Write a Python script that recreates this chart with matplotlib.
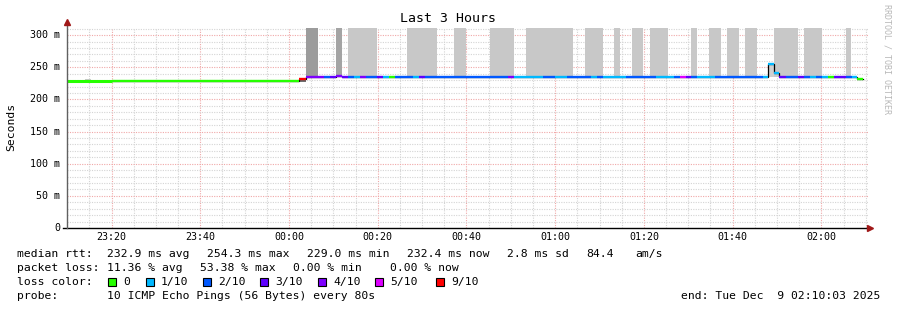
import matplotlib
matplotlib.use("Agg")
import matplotlib.pyplot as plt
from matplotlib.patches import Rectangle

# ---------------- data ----------------
# time in minutes relative to 00:00 (Dec 9); graph spans 23:10:03 .. 02:10:03
seg_edges = [-50.0, -40.0, 2.25, 3.83, 7.9, 9.2, 10.6, 11.9, 13.3, 14.6, 16.0,
             17.4, 19.8, 21.2, 22.5, 23.9, 27.9, 29.3, 30.6, 49.4, 50.7, 57.2,
             59.9, 62.6, 68.1, 69.4, 70.8, 75.9, 82.7, 86.8, 88.1, 89.5, 90.6,
             91.9, 96.0, 106.8, 107.9, 109.3, 110.4, 112.0, 114.7, 116.1, 117.4,
             118.8, 120.1, 121.5, 122.8, 125.5, 126.9, 128.0, 129.4]
seg_median = [228.0, 228.8, 231.6, 234.3, 234.3, 234.3, 235.6, 234.3, 234.3, 234.3,
              234.3, 234.3, 234.3, 234.3, 234.3, 234.3, 234.3, 234.3, 234.3, 234.3,
              234.3, 234.3, 234.3, 234.3, 234.3, 234.3, 234.3, 234.3, 234.3, 234.3,
              234.3, 234.3, 234.3, 234.3, 234.3, 234.3, 254.3, 240.5, 234.3, 234.3,
              234.3, 234.3, 234.3, 234.3, 234.3, 234.3, 234.3, 234.3, 234.3, 232.4]
seg_loss = [0, 0, 9, 4, 2, 3, 4, 3, 2, 1,
            4, 2, 3, 1, 0, 2, 1, 3, 2, 4,
            1, 2, 1, 2, 1, 2, 1, 2, 1, 2,
            5, 3, 2, 1, 2, 1, 1, 1, 3, 2,
            3, 2, 1, 2, 1, 0, 3, 2, 1, 0]

smoke_start = [-45.9, 2.25, 3.83, 10.6, 13.3, 26.6, 37.2, 45.3, 53.4, 66.7, 73.2,
               77.3, 81.4, 90.6, 94.6, 98.7, 102.8, 107.9, 109.3, 116.1, 125.5]
smoke_end = [-44.7, 3.83, 6.47, 11.9, 19.8, 33.4, 39.8, 50.7, 64.0, 70.8, 74.6,
             79.8, 85.4, 91.9, 97.4, 101.4, 105.5, 109.3, 114.7, 120.1, 126.6]
smoke_low = [229.5, 227.0, 234.3, 234.3, 234.3, 234.3, 234.3, 234.3, 234.3, 234.3, 234.3,
             234.3, 234.3, 234.3, 234.3, 234.3, 234.3, 234.3, 234.3, 234.3, 234.3]
smoke_high = [231.0, 231.6, 330, 330, 330, 330, 330, 330, 330, 330, 330,
              330, 330, 330, 330, 330, 330, 254.3, 330, 330, 330]
smoke_shade = ["#c8c8c8", "#707070", "#9c9c9c", "#a4a4a4", "#c8c8c8", "#c8c8c8",
               "#c8c8c8", "#c8c8c8", "#c8c8c8", "#c8c8c8", "#c8c8c8", "#c8c8c8",
               "#c8c8c8", "#c8c8c8", "#c8c8c8", "#c8c8c8", "#c8c8c8", "#d0d0d0",
               "#c8c8c8", "#c8c8c8", "#c8c8c8"]

loss_levels = [0, 1, 2, 3, 4, 5, 9]
loss_labels = ["0", "1/10", "2/10", "3/10", "4/10", "5/10", "9/10"]
loss_colors = ["#26ff00", "#00b8ff", "#0059ff", "#5e00ff", "#7e00ff", "#dd00ff", "#ff0000"]

x_ticks = [-40, -20, 0, 20, 40, 60, 80, 100, 120]
x_labels = ["23:20", "23:40", "00:00", "00:20", "00:40", "01:00", "01:20", "01:40", "02:00"]
y_ticks = [0, 50, 100, 150, 200, 250, 300]
y_labels = ["0", "50 m", "100 m", "150 m", "200 m", "250 m", "300 m"]

stats_rtt = ["232.9 ms avg", "254.3 ms max", "229.0 ms min", "232.4 ms now", "2.8 ms sd", "84.4", "am/s"]
stats_loss = ["11.36 % avg", "53.38 % max", "0.00 % min", "0.00 % now"]

# ---------------- figure ----------------
W, H = 897, 310
fig = plt.figure(figsize=(W / 100, H / 100), dpi=100)
fig.patch.set_facecolor("white")
ax = fig.add_axes([67 / W, (H - 228) / H, (868 - 67) / W, (228 - 28) / H])
ax.set_facecolor("white")
XMIN, XMAX = -50.03, 130.5
ax.set_xlim(XMIN, XMAX)
ax.set_ylim(0, 311)
for s in ax.spines.values():
    s.set_visible(False)
ax.tick_params(length=0)
ax.set_xticks([])
ax.set_yticks([])

MONO = "DejaVu Sans Mono"
dot = (0, (1, 1.2))
# grid
for m in range(-45, 131, 5):
    major = (m % 20 == 0)
    ax.axvline(m, color="#f0a8a8" if major else "#d4d4d4", lw=0.8, ls=dot, zorder=0)
for v in range(10, 311, 10):
    major = (v % 50 == 0)
    ax.axhline(v, color="#f0a8a8" if major else "#d4d4d4", lw=0.8, ls=dot, zorder=0)

# smoke
for s0, s1, lo, hi, c in zip(smoke_start, smoke_end, smoke_low, smoke_high, smoke_shade):
    ax.fill_between([s0, s1], [lo, lo], [hi, hi], color=c, lw=0, zorder=1)

# black median outline (step)
xs, ys = [], []
for i, v in enumerate(seg_median):
    xs += [seg_edges[i], seg_edges[i + 1]]
    ys += [v, v]
ax.plot(xs, ys, color="black", lw=0.9, zorder=2, solid_joinstyle="miter")

# coloured median segments
cmap = dict(zip(loss_levels, loss_colors))
for i, v in enumerate(seg_median):
    lw = 2.2 if i == 0 else 1.7
    ax.plot([seg_edges[i], seg_edges[i + 1]], [v, v], color=cmap[seg_loss[i]],
            lw=lw, solid_capstyle="butt", zorder=3)

# axes lines & arrows
ax.plot([-51.0, XMAX], [0, 0], color="black", lw=1.0, clip_on=False, zorder=4)
ax.plot([XMIN, XMIN], [0, 318], color="#606060", lw=1.0, clip_on=False, zorder=4)
ax.plot([XMAX + 0.35], [0], marker=">", color="#a01818", markersize=4, clip_on=False, zorder=5)
ax.plot([XMIN], [320], marker="^", color="#a01818", markersize=4, clip_on=False, zorder=5)

# tick labels
for t, lab in zip(x_ticks, x_labels):
    ax.text(t, -14, lab, ha="center", va="center", fontsize=7.2, family=MONO)
for t, lab in zip(y_ticks, y_labels):
    ax.text(-51.6, t, lab, ha="right", va="center", fontsize=7.2, family=MONO)

def ftext(x, y, s, **kw):
    kw.setdefault("fontsize", 8.2)
    kw.setdefault("family", MONO)
    fig.text(x / W, 1 - y / H, s, va="center", **kw)

ftext(448, 19, "Last 3 Hours", ha="center", fontsize=9.5)
ftext(11, 127, "Seconds", ha="center", rotation=90)
ftext(887, 59, "RRDTOOL / TOBI OETIKER", ha="center", rotation=270, fontsize=6.0, color="#b8b8b8")

# legend
ftext(16.7, 254, "median rtt:")
for x, s in zip([107, 207, 307, 407, 507, 586, 635], stats_rtt):
    ftext(x, 254, s)
ftext(16.7, 268, "packet loss:")
for x, s in zip([107, 200, 293, 390], stats_loss):
    ftext(x, 268, s)
ftext(16.7, 282, "loss color:")
box_x = [108, 146, 203, 260, 318, 375, 436]
for bx, lab, c in zip(box_x, loss_labels, loss_colors):
    fig.patches.append(Rectangle((bx / W, 1 - 286 / H), 8 / W, 8 / H, transform=fig.transFigure,
                                 facecolor=c, edgecolor="black", lw=0.8, figure=fig))
    ftext(bx + 15, 282, lab)
ftext(16.7, 296, "probe:")
ftext(107, 296, "10 ICMP Echo Pings (56 Bytes) every 80s")
ftext(880, 296, "end: Tue Dec  9 02:10:03 2025", ha="right")

fig.savefig("out.png", dpi=100, facecolor="white")
